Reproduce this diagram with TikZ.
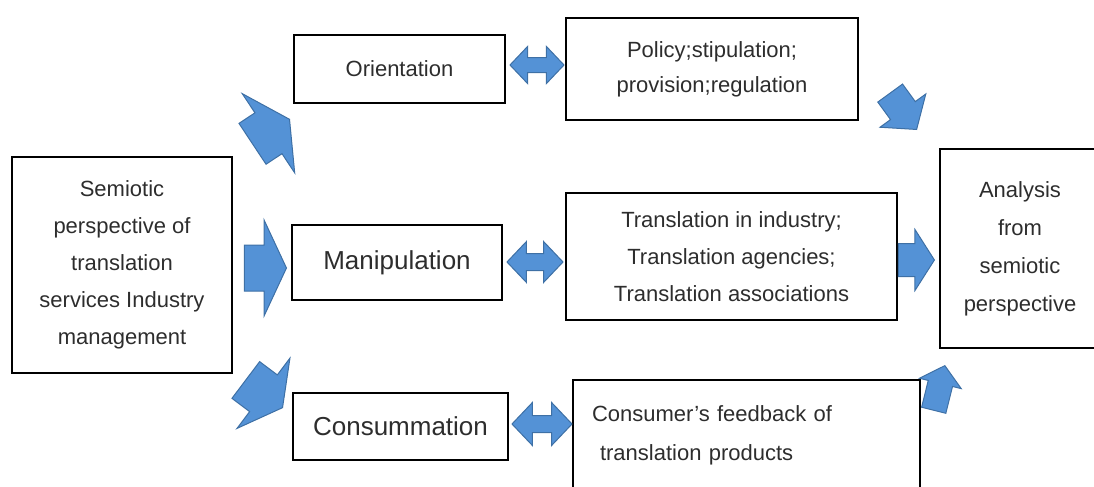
\documentclass[tikz,border=0pt]{standalone}
\usepackage{fontspec}
\setmainfont{Liberation Sans}
\usetikzlibrary{shapes.arrows}
\definecolor{arrowfill}{RGB}{84,146,214}
\definecolor{arrowedge}{RGB}{62,112,165}
\definecolor{ink}{RGB}{45,45,45}
\tikzset{%
	box/.style={%
		draw,
		line width=0.8pt,
		inner sep=0pt,
		align=center,
		text=ink,
		font=\fontsize{11}{18.5}\selectfont
	},
	bigbox/.style={box, font=\fontsize{13}{16}\selectfont},
	fat/.style={%
		single arrow,
		draw=arrowedge,
		fill=arrowfill,
		line width=0.5pt,
		inner xsep=0pt,
		anchor=tip
	},
	twin/.style={%
		double arrow,
		draw=arrowedge,
		fill=arrowfill,
		line width=0.5pt,
		inner xsep=0pt,
		double arrow tip angle=93
	}
}

\begin{document}
\begin{tikzpicture}[x=0.5pt, y=-0.5pt]
	\useasboundingbox (0,0) rectangle (1094,487);

	% the eight boxes
	\node [box, minimum width=110pt, minimum height=108pt] (source) at (122,265)
		{Semiotic\\perspective of\\translation\\services Industry\\management};
	\node [box, minimum width=105.5pt, minimum height=34pt] (orient) at (399.5,69) {Orientation};
	\node [box, minimum width=146pt, minimum height=51pt, font=\fontsize{11}{17.5}\selectfont] (policy) at (712,69)
		{Policy;stipulation;\\provision;regulation};
	\node [bigbox, minimum width=105pt, minimum height=37.5pt] (manip) at (397,262.5) {Manipulation};
	\node [box, minimum width=165.5pt, minimum height=63.5pt] (industry) at (731.5,256.5)
		{Translation in industry;\\Translation agencies;\\Translation associations};
	\node [bigbox, minimum width=107.5pt, minimum height=33.5pt] (consum) at (400.5,426.5) {Consummation};
	\node [box, minimum width=173.5pt, minimum height=55pt, text width=154.5pt, inner xsep=9.5pt,
		align=left, font=\fontsize{11}{19.5}\selectfont] (feedback) at (746.5,435)
		{Consumer’s feedback of\\\hspace*{4pt}translation products};
	\node [box, minimum width=80pt, minimum height=99.5pt, font=\fontsize{11}{19}\selectfont] (analysis) at (1020,248.5)
		{Analysis\\from\\semiotic\\perspective};

	% block arrows out of the source box
	\node [fat, rotate=33.5, minimum height=22.2pt, inner ysep=12pt,
		single arrow head extend=11.5pt, single arrow tip angle=124] (toorient) at (290,119) {};
	\node [fat, minimum height=21pt, inner ysep=11.25pt,
		single arrow head extend=12.5pt, single arrow tip angle=130] (tomanip) at (287,268) {};
	\node [fat, rotate=-37, minimum height=23pt, inner ysep=11.25pt,
		single arrow head extend=10.5pt, single arrow tip angle=123] (toconsum) at (283,408) {};

	% block arrows into the analysis box
	\node [fat, rotate=-54, minimum height=22.5pt, inner ysep=7.4pt,
		single arrow head extend=6.5pt, single arrow tip angle=101] (frompolicy) at (917,130) {};
	\node [fat, minimum height=18pt, inner ysep=8pt,
		single arrow head extend=7pt, single arrow tip angle=115] (fromindustry) at (935,260) {};
	\node [fat, rotate=76, minimum height=23pt, inner ysep=6pt,
		single arrow head extend=4.5pt, single arrow tip angle=99] (fromfeedback) at (945,365) {};

	% two-way arrows between the middle columns
	\node [twin, minimum height=27pt, inner ysep=3.5pt, double arrow head extend=5.5pt] (orientpolicy) at (537,65) {};
	\node [twin, minimum height=28pt, inner ysep=4pt, double arrow head extend=6pt] (manipindustry) at (535,262) {};
	\node [twin, minimum height=30pt, inner ysep=4pt, double arrow head extend=6.5pt] (consumfeedback) at (542,424) {};
\end{tikzpicture}
\end{document}
